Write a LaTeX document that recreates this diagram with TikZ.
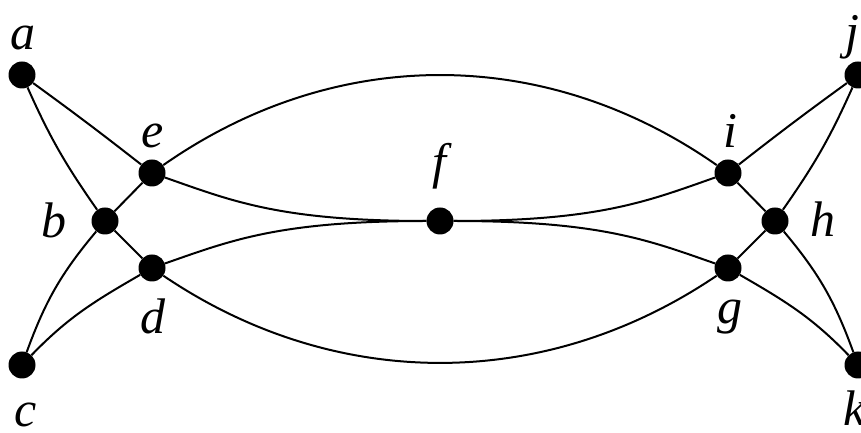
\documentclass[tikz,border=0pt]{standalone}
\usepackage{fontspec}
\setmainfont{Liberation Serif}
\begin{document}
\begin{tikzpicture}[x=1pt,y=1pt,
  dot/.style={circle,fill=black,inner sep=0pt,minimum size=27pt},
  lbl/.style={font=\fontsize{50}{60}\selectfont\itshape,inner sep=0pt},
  edge/.style={line width=2pt,black}]
\useasboundingbox (0,0) rectangle (861,433);
% vertices
\node[dot] (a) at (22,358) {};
\node[dot] (b) at (105,212) {};
\node[dot] (c) at (22,68) {};
\node[dot] (d) at (152,165) {};
\node[dot] (e) at (152,260) {};
\node[dot] (f) at (440,212) {};
\node[dot] (g) at (728,165) {};
\node[dot] (h) at (775,212) {};
\node[dot] (i) at (728,260) {};
\node[dot] (j) at (858,358) {};
\node[dot] (k) at (858,68) {};
% labels
\node[lbl] (la) at (23,395) {a};
\node[lbl] (lb) at (54,213) {b};
\node[lbl] (lc) at (26,18) {c};
\node[lbl] (ld) at (153,117) {d};
\node[lbl] (le) at (153,297) {e};
\node[lbl] (lf) at (439,267) {f};
\node[lbl] (lg) at (730,116) {g};
\node[lbl] (lh) at (823,214) {h};
\node[lbl] (li) at (730,302) {i};
\node[lbl] (lj) at (852,396) {j};
\node[lbl] (lk) at (855,25) {k};
% left edges
\draw[edge] (a) to[out=-36,in=142] (e);
\draw[edge] (a) to[out=-66,in=125] (b);
\draw[edge] (c) to[out=70,in=230] (b);
\draw[edge] (c) to[out=46,in=210] (d);
\draw[edge] (b) -- (e);
\draw[edge] (b) -- (d);
% right edges
\draw[edge] (j) to[out=216,in=38] (i);
\draw[edge] (j) to[out=-114,in=55] (h);
\draw[edge] (k) to[out=110,in=-50] (h);
\draw[edge] (k) to[out=134,in=-30] (g);
\draw[edge] (h) -- (i);
\draw[edge] (h) -- (g);
% long arcs
\draw[edge] (e) .. controls +(183,128) and +(-183,128) .. (i);
\draw[edge] (d) .. controls +(183,-124) and +(-183,-124) .. (g);
% curves through f
\draw[edge] (e) .. controls +(80,-28) and +(-160,0) .. (f);
\draw[edge] (d) .. controls +(80,28) and +(-160,0) .. (f);
\draw[edge] (f) .. controls +(160,0) and +(-80,28) .. (g);
\draw[edge] (f) .. controls +(160,0) and +(-80,-28) .. (i);
\end{tikzpicture}
\end{document}
